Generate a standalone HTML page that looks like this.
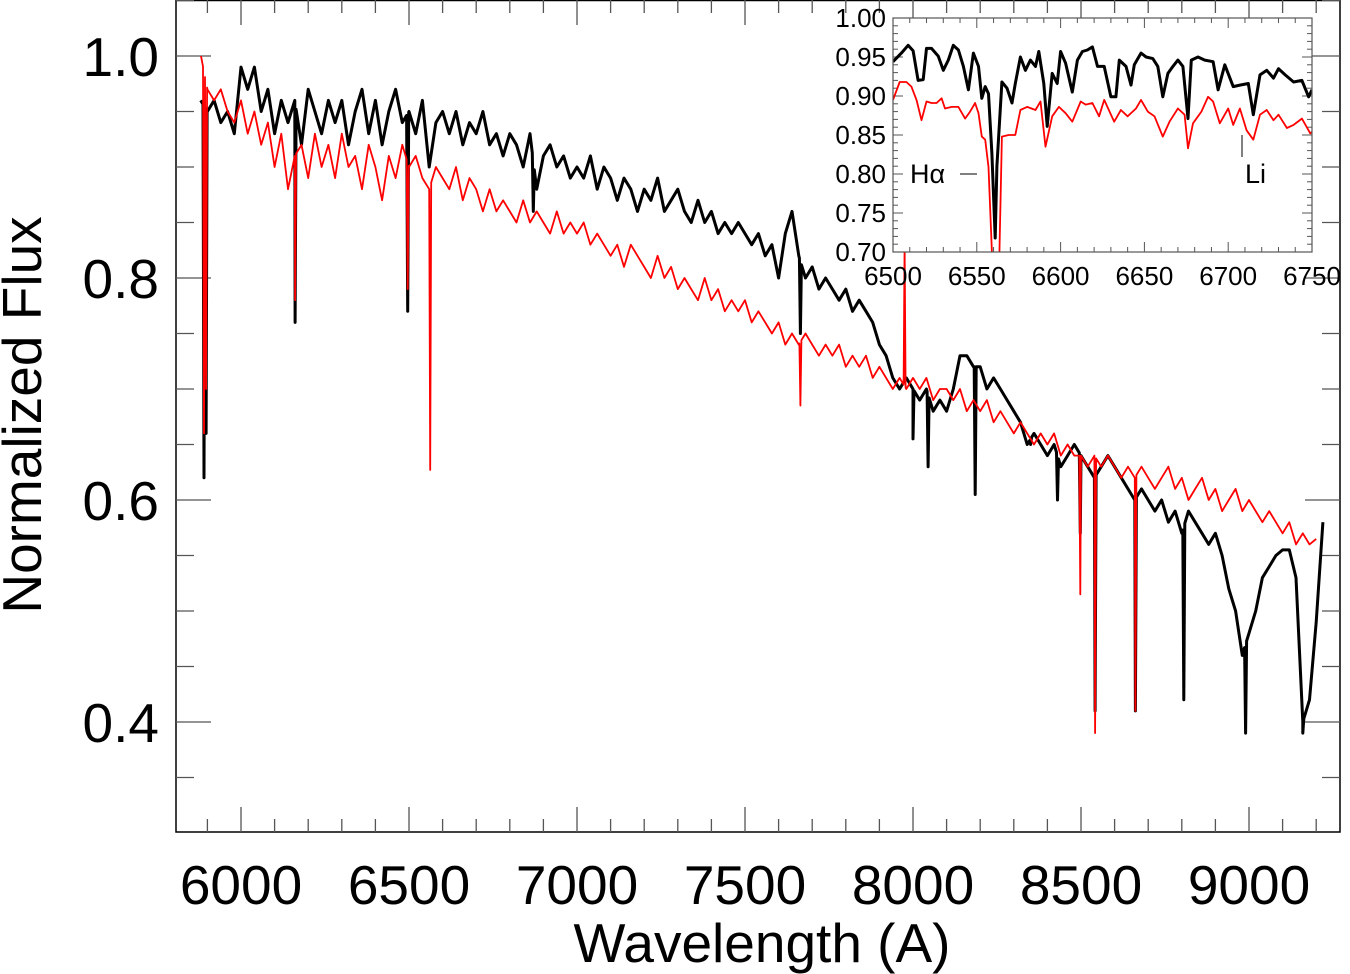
<!DOCTYPE html>
<html><head><meta charset="utf-8"><style>
html,body{margin:0;padding:0;background:#fff;}
svg{display:block;font-family:"Liberation Sans",sans-serif;}
</style></head><body>
<svg id="chart" width="1350" height="974" viewBox="0 0 1350 974">
<defs><clipPath id="mainclip"><rect x="176" y="0" width="1164" height="832"/></clipPath>
<clipPath id="insetclip"><rect x="893" y="18" width="419" height="234"/></clipPath></defs>
<g id="main"></g>
<g id="inset"></g>
</svg>
<script>
// ---------- Main chart data ----------
const gridStart = 5880, gridStep = 20;
const blackFlux = [.96,.95,.96,.94,.95,.93,
.99,.97,.99,.95,.97,.93,.96,.94,.96,.92,.97,.95,.93,.96,.94,.96,.92,.95,.97,.93,.96,.92,.95,.97,.94,
.95,.93,.96,.90,.94,.95,.93,.95,.92,.94,.93,.95,.92,.93,.91,.93,.92,.90,.93,.88,.91,.92,.90,.91,.89,
.90,.89,.91,.88,.90,.89,.87,.89,.88,.86,.88,.87,.89,.86,.87,.88,.86,.85,.87,.85,.86,.84,.85,.84,.85,
.84,.83,.84,.82,.83,.80,.84,.86,.82,.80,.81,.79,.80,.79,.78,.79,.77,.78,.77,.76,.74,.73,.71,.70,.71,
.70,.69,.70,.68,.69,.68,.70,.73,.73,.72,.72,.70,.71,.70,.69,.68,.67,.65,.66,.65,.64,.65,.63,.64,.65,
.64,.63,.62,.63,.64,.63,.62,.61,.60,.61,.60,.59,.60,.58,.59,.57,.59,.58,.57,.56,.57,.55,.52,.50,.46,
.48,.50,.53,.54,.55,.555,.555,.53,.40,.42,.49,.58];
const redStartW = 5881, redStartF = 1.0;
const redFlux = [null,.97,.96,.97,.95,.94,
.96,.93,.95,.92,.94,.90,.93,.88,.91,.92,.89,.93,.90,.92,.89,.93,.90,.91,.88,.92,.90,.87,.91,.89,.92,
.90,.91,.89,.88,.90,.89,.88,.90,.87,.89,.88,.86,.88,.86,.87,.86,.85,.87,.85,.86,.85,.84,.86,.84,.85,
.84,.85,.83,.84,.83,.82,.83,.81,.83,.82,.81,.80,.82,.80,.81,.79,.80,.79,.78,.80,.78,.79,.77,.78,.77,
.78,.76,.77,.76,.75,.76,.74,.75,.74,.75,.74,.73,.74,.73,.74,.72,.73,.72,.73,.71,.72,.71,.70,.71,.70,
.71,.70,.71,.69,.70,.70,.69,.70,.68,.69,.68,.69,.67,.68,.67,.66,.67,.66,.65,.66,.65,.66,.64,.65,.64,
.64,.63,.64,.63,.64,.63,.62,.63,.62,.63,.62,.61,.62,.63,.61,.62,.60,.61,.62,.60,.61,.59,.60,.61,.59,
.60,.59,.58,.59,.58,.57,.58,.56,.57,.56,.565];
const blackLineW = [5890,5896,6161,6496,6870,7665,8000,8045,8185,8350,8430,8498,8542,8662,8806,8990,9160];
const blackLineF = [.62,.66,.76,.77,.86,.75,.655,.63,.605,.65,.60,.57,.41,.41,.42,.39,.39];
const redLineW = [5890,5896,6161,6496,6563,7665,7975,8498,8542,8662];
const redLineF = [.66,.70,.78,.79,.627,.685,.83,.515,.39,.41];
const xTicks = [6000,6500,7000,7500,8000,8500,9000];
const yTicks = [0.4,0.6,0.8,1.0];

// ---------- Inset data ----------
const insetBlackW = [6500,6505,6509,6512,6515,6518,6520,6523,6527,6530,6533,6536,6539,6542,6545,6548,6551,6553,6555,6557,6559,6561,6562,6565,6568,6571,6573,6576,6579,6582,6585,6587,6590,6592,6595,6598,6600,6603,6607,6610,6613,6616,6619,6622,6626,6630,6633,6635,6639,6642,6644,6648,6651,6655,6658,6661,6664,6667,6670,6673,6676,6678,6682,6686,6691,6694,6698,6703,6707,6712,6715,6719,6723,6727,6730,6734,6739,6744,6748,6750];
const insetBlackF = [.944,.955,.965,.958,.920,.921,.961,.961,.951,.933,.946,.965,.959,.938,.908,.955,.938,.897,.912,.903,.826,.718,.810,.918,.910,.891,.916,.950,.933,.946,.938,.957,.916,.861,.929,.916,.957,.942,.905,.946,.957,.959,.963,.938,.938,.899,.899,.946,.938,.914,.940,.955,.950,.948,.938,.899,.929,.938,.946,.938,.871,.946,.950,.946,.944,.908,.940,.912,.914,.916,.876,.927,.933,.923,.935,.927,.918,.920,.899,.908];
const insetRedW = [6500,6504,6508,6511,6514,6517,6520,6523,6526,6529,6531,6535,6539,6543,6546,6549,6551,6553,6555,6557,6559,6561,6563,6565,6569,6573,6576,6580,6585,6588,6591,6595,6599,6603,6607,6612,6615,6619,6623,6626,6632,6636,6640,6645,6648,6652,6656,6661,6665,6670,6674,6676,6679,6684,6688,6691,6695,6700,6703,6707,6711,6715,6719,6723,6727,6730,6735,6739,6744,6749,6750];
const insetRedF = [.895,.918,.918,.912,.895,.869,.893,.891,.891,.897,.884,.886,.886,.871,.880,.891,.878,.848,.844,.809,.70,.62,.65,.848,.850,.850,.882,.886,.882,.893,.835,.874,.886,.878,.867,.893,.889,.891,.874,.895,.867,.882,.874,.884,.895,.880,.874,.848,.867,.884,.876,.833,.865,.880,.899,.893,.865,.884,.863,.884,.856,.844,.876,.882,.869,.876,.859,.863,.871,.852,.854];
const insetXTicks = [6500,6550,6600,6650,6700,6750];
const insetYTicks = [0.70,0.75,0.80,0.85,0.90,0.95,1.00];

const NS = "http://www.w3.org/2000/svg";
function mk(tag, attrs, parent){const e=document.createElementNS(NS,tag);for(const k in attrs)e.setAttribute(k,attrs[k]);parent.appendChild(e);return e;}
const X = w => 241 + (w-6000)*0.336;
const Y = f => 56 + (1.0-f)*1110;
const IX = w => 893 + (w-6500)*1.676;
const IY = f => 18 + (1.0-f)*780;

function interp(ws, fs, w){
  for(let i=0;i<ws.length-1;i++){ if(w>=ws[i] && w<=ws[i+1]){const t=(w-ws[i])/(ws[i+1]-ws[i]);return fs[i]+t*(fs[i+1]-fs[i]);} }
  return fs[fs.length-1];
}
function buildSeries(flux, lw, lf, startW, startF){
  let ws=[], fs=[];
  if(startW!==undefined){ws.push(startW);fs.push(startF);}
  flux.forEach((f,i)=>{ if(f!==null){ws.push(gridStart+i*gridStep);fs.push(f);} });
  const baseW=ws.slice(), baseF=fs.slice();
  let pts = ws.map((w,i)=>[w,fs[i]]);
  lw.forEach((w,i)=>{
    pts.push([w-3, interp(baseW,baseF,w-3)]);
    pts.push([w, lf[i]]);
    pts.push([w+3, interp(baseW,baseF,w+3)]);
  });
  pts.sort((a,b)=>a[0]-b[0]);
  return pts;
}

const main = document.getElementById('main');
const inset = document.getElementById('inset');

const frame = mk('rect',{x:176,y:0.5,width:1164,height:831.5,fill:'none',stroke:'#000','stroke-width':1.5},main);



for(let w=5900; w<=9200; w+=100){
  const major = (w%500===0);
  const len = major?25:13;
  const x=X(w);
  const t1=mk('line',{x1:x,y1:832,x2:x,y2:832-len,stroke:'#555','stroke-width':1.3},main);
  
  
  const t2=mk('line',{x1:x,y1:0,x2:x,y2:len,stroke:'#555','stroke-width':1.3},main);
  
  
}
xTicks.forEach(w=>{
  const t=mk('text',{x:X(w),y:904,'text-anchor':'middle','font-size':55},main);
  t.textContent=String(w);
  
  
});
for(let k=0;k<=15;k++){
  const f = 0.30 + k*0.05;
  const major = Math.abs((f*10)-Math.round(f*10))<1e-6 && Math.round(f*10)%2===0;
  const len = major?70:36;
  const y=Y(f);
  if(y<0||y>832) continue;
  const t1=mk('line',{x1:176,y1:y,x2:176+len*0.5,y2:y,stroke:'#555','stroke-width':1.3},main);
  
  
  const t2=mk('line',{x1:1340,y1:y,x2:1340-len*0.5,y2:y,stroke:'#555','stroke-width':1.3},main);
  
  
}
yTicks.forEach(f=>{
  const t=mk('text',{x:159,y:Y(f)+20,'text-anchor':'end','font-size':55},main);
  t.textContent=f.toFixed(1);
  
  
});
const xt=mk('text',{x:762,y:962,'text-anchor':'middle','font-size':55},main);
xt.textContent='Wavelength (A)';


const yt=mk('text',{x:0,y:0,'text-anchor':'middle','font-size':55,transform:'translate(41,415) rotate(-90)'},main);
yt.textContent='Normalized Flux';



const bPts = buildSeries(blackFlux, blackLineW, blackLineF);
const rPts = buildSeries(redFlux, redLineW, redLineF, redStartW, redStartF);
const gClip = mk('g',{'clip-path':'url(#mainclip)'},main);
const bl=mk('polyline',{points:bPts.map(p=>X(p[0]).toFixed(1)+','+Y(p[1]).toFixed(1)).join(' '),fill:'none',stroke:'#000','stroke-width':3,'stroke-linejoin':'round'},gClip);


const rl=mk('polyline',{points:rPts.map(p=>X(p[0]).toFixed(1)+','+Y(p[1]).toFixed(1)).join(' '),fill:'none',stroke:'#f00','stroke-width':1.8,'stroke-linejoin':'round'},gClip);



// ---------- Inset ----------
const ibg=mk('rect',{x:893,y:18,width:419,height:234,fill:'#fff',stroke:'none'},inset);


for(let w=6500; w<=6750; w+=10){
  const major=(w%50===0);
  const len=major?10:5;
  const x=IX(w);
  const a=mk('line',{x1:x,y1:252,x2:x,y2:252-len,stroke:'#555','stroke-width':1},inset);
  
  
  const b=mk('line',{x1:x,y1:18,x2:x,y2:18+len,stroke:'#555','stroke-width':1},inset);
  
  
}
for(let k=0;k<=30;k++){
  const f=0.70+k*0.01;
  const major=(k%5===0);
  const len=major?10:5;
  const y=IY(f);
  const a=mk('line',{x1:893,y1:y,x2:893+len,y2:y,stroke:'#555','stroke-width':1},inset);
  
  
  const b=mk('line',{x1:1312,y1:y,x2:1312-len,y2:y,stroke:'#555','stroke-width':1},inset);
  
  
}
insetXTicks.forEach(w=>{
  const t=mk('text',{x:IX(w),y:285,'text-anchor':'middle','font-size':26},inset);
  t.textContent=String(w);
  
  
});
insetYTicks.forEach(f=>{
  const t=mk('text',{x:886,y:IY(f)+9,'text-anchor':'end','font-size':26},inset);
  t.textContent=f.toFixed(2);
  
  
});
const ig=mk('g',{'clip-path':'url(#insetclip)'},inset);
const ib=mk('polyline',{points:insetBlackW.map((w,i)=>IX(w).toFixed(1)+','+IY(insetBlackF[i]).toFixed(1)).join(' '),fill:'none',stroke:'#000','stroke-width':3,'stroke-linejoin':'round'},ig);


const ir=mk('polyline',{points:insetRedW.map((w,i)=>IX(w).toFixed(1)+','+IY(insetRedF[i]).toFixed(1)).join(' '),fill:'none',stroke:'#f00','stroke-width':1.8,'stroke-linejoin':'round'},ig);


const iframe=mk('rect',{x:893,y:18,width:419,height:234,fill:'none',stroke:'#555','stroke-width':1.2},inset);


const ha=mk('text',{x:910,y:183,'font-size':27},inset);
ha.textContent='Hα';


const had=mk('line',{x1:960,y1:174,x2:977,y2:174,stroke:'#000','stroke-width':1},inset);


const li=mk('text',{x:1245,y:183,'font-size':27},inset);
li.textContent='Li';


const lim=mk('line',{x1:1242,y1:135,x2:1242,y2:157,stroke:'#000','stroke-width':1},inset);


</script>
</body></html>
